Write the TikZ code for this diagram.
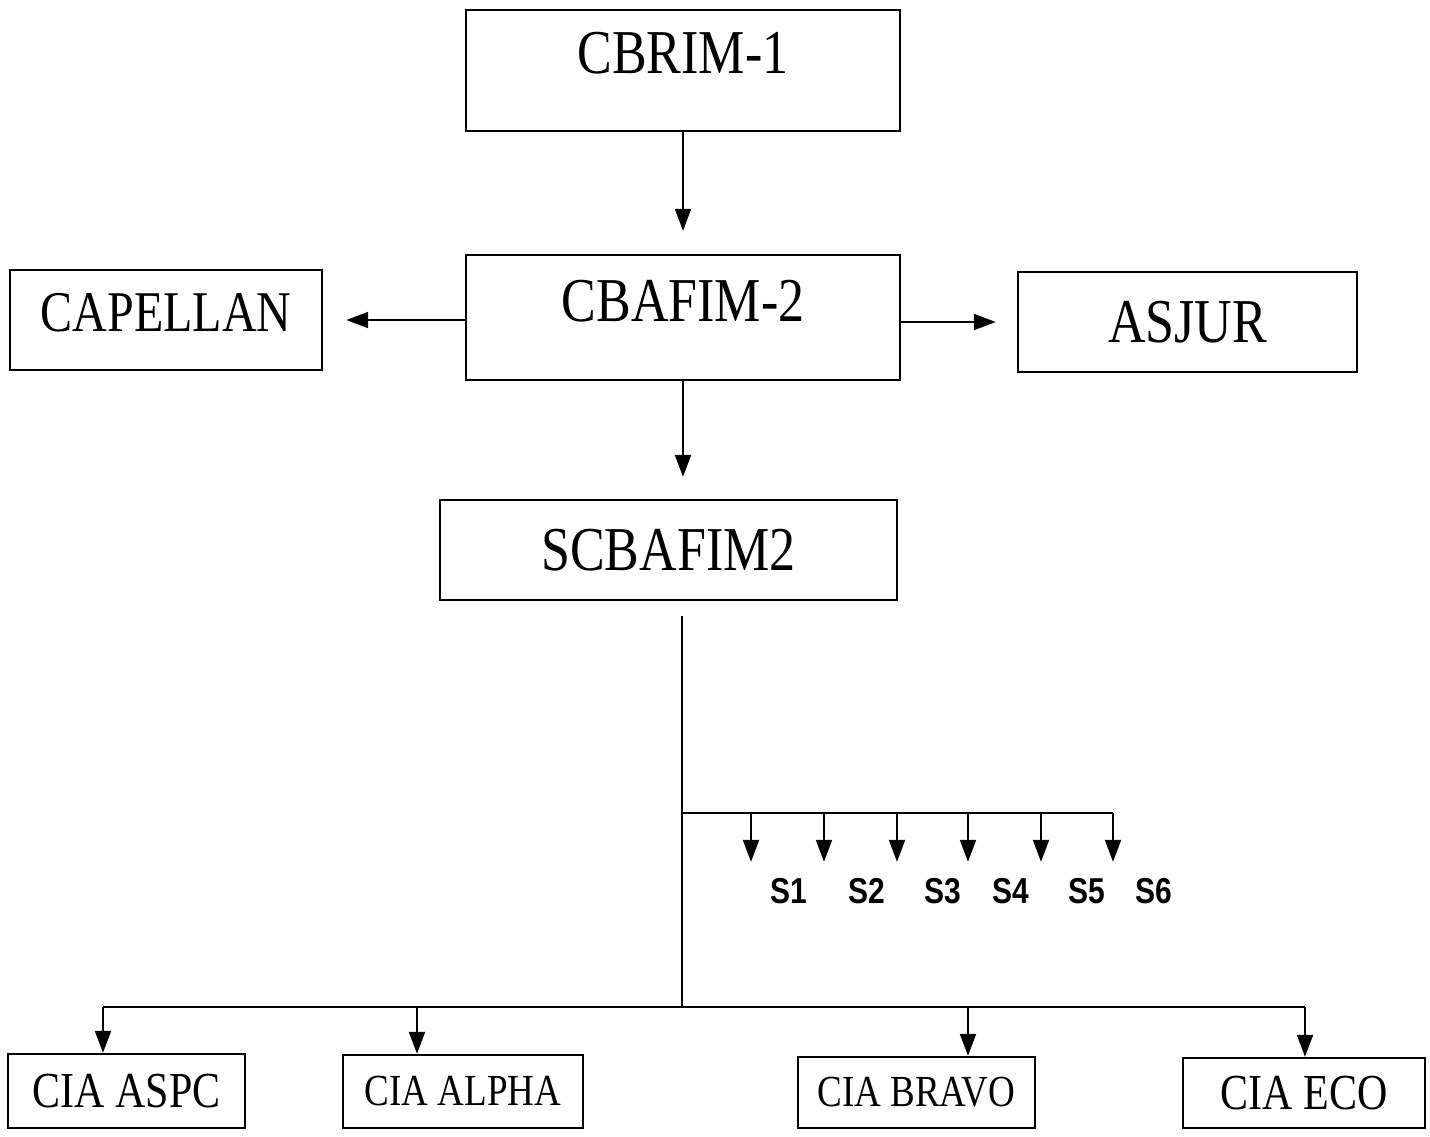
\documentclass[tikz,border=0pt]{standalone}
\usepackage{fontspec}
\setmainfont{Liberation Serif}
\setsansfont{Liberation Sans}
\usetikzlibrary{arrows.meta}
\tikzstyle{box} = [rectangle, draw=black, line width=1.2pt, inner sep=0, text centered]
\tikzstyle{arrow} = [line width=1pt,->,>={Triangle[length=11pt,width=8pt]}]
\tikzstyle{line} = [line width=1pt]
\tikzstyle{slabel} = [inner sep=0, font=\sffamily\bfseries\fontsize{15}{15}\selectfont]
\newcommand{\tall}[1]{\scalebox{1}[1.2]{#1}}
\newcommand{\boxsize}[1]{\fontsize{#1}{#1}\selectfont}

\begin{document}
\begin{tikzpicture}[x=0.5pt,y=-0.5pt]
\useasboundingbox (0,0) rectangle (1430,1136);

\node[box, minimum width=217pt, minimum height=60.5pt, text depth=18pt, font=\boxsize{26}] (cbrim) at (683,70.5) {\tall{CBRIM-1}};
\node[box, minimum width=217pt, minimum height=62.5pt, text depth=17pt, font=\boxsize{26}] (cbafim) at (683,317.5) {\tall{CBAFIM-2}};
\node[box, minimum width=156pt, minimum height=50pt, text depth=8pt, font=\boxsize{24}] (capellan) at (166,320) {\tall{CAPELLAN}};
\node[box, minimum width=169.5pt, minimum height=50pt, font=\boxsize{26}] (asjur) at (1187.5,322) {\tall{ASJUR}};
\node[box, minimum width=228.5pt, minimum height=50pt, font=\boxsize{26}] (scbafim) at (668.5,550) {\tall{SCBAFIM2}};

\node[box, minimum width=118.5pt, minimum height=37pt, font=\boxsize{21}] (aspc) at (126.5,1091) {\tall{CIA ASPC}};
\node[box, minimum width=120pt, minimum height=36.5pt, font=\boxsize{18.5}] (alpha) at (463,1091.5) {\tall{CIA ALPHA}};
\node[box, minimum width=118.5pt, minimum height=35.5pt, font=\boxsize{18.5}] (bravo) at (916.5,1092.5) {\tall{CIA BRAVO}};
\node[box, minimum width=121pt, minimum height=35pt, font=\boxsize{21}] (eco) at (1304,1093) {\tall{CIA ECO}};

% upper part
\draw[arrow, shorten >=11.5pt] (cbrim) -- (cbafim);
\draw[arrow, shorten >=11.5pt] (cbafim.west |- capellan.east) -- (capellan.east);
\draw[arrow, shorten >=10.5pt] (cbafim.east |- asjur.west) -- (asjur);
\draw[arrow, shorten >=11pt] (cbafim.south) -- (cbafim.south |- scbafim.north);

% trunk and the S branch
\coordinate (hub) at (682,1007);
\coordinate (sfork) at (682,813);
\draw[line, shorten <=7.5pt] (scbafim.south -| hub) -- (hub);
\foreach \ax/\lx [count=\i] in {751/789, 824/867, 897/943, 968/1011, 1041/1087, 1113/1154}{
	\node[slabel] (s\i) at (\lx,891) {\tall{S\i}};
	\coordinate (sd\i) at (\ax,813);
	\draw[arrow, shorten >=8pt] (sd\i) -- (sd\i |- s\i.north);
}
\draw[line] (sfork) -- (sd6);

% companies
\foreach \b/\x in {aspc/103, alpha/417, bravo/968, eco/1305}{
	\coordinate (j\b) at (\x,1007);
	\draw[arrow] (j\b) -- (j\b |- \b.north);
}
\draw[line] (jaspc) -- (jeco);

\end{tikzpicture}
\end{document}
